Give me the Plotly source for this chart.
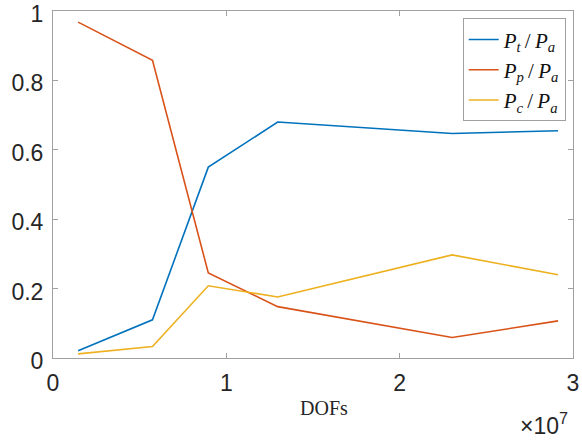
import plotly.graph_objects as go

dofs = [1.45e6, 5.74e6, 8.96e6, 1.296e7, 2.303e7, 2.914e7]
pt_pa = [0.021, 0.110, 0.550, 0.680, 0.647, 0.655]
pp_pa = [0.968, 0.858, 0.245, 0.148, 0.059, 0.107]
pc_pa = [0.012, 0.033, 0.208, 0.176, 0.297, 0.240]

names = ["<i>P<sub>t</sub></i>\u2009/\u2009<i>P<sub>a</sub></i>",
         "<i>P<sub>p</sub></i>\u2009/\u2009<i>P<sub>a</sub></i>",
         "<i>P<sub>c</sub></i>\u2009/\u2009<i>P<sub>a</sub></i>"]
colors = ["#0072BD", "#D95319", "#EDB120"]
series = [pt_pa, pp_pa, pc_pa]

xtickvals = [0, 1e7, 2e7, 3e7]
xticktext = ["0", "1", "2", "3"]
ytickvals = [0, 0.2, 0.4, 0.6, 0.8, 1]
yticktext = ["0", "0.2", "0.4", "0.6", "0.8", "1"]

fig = go.Figure()
for y, n, c in zip(series, names, colors):
    fig.add_trace(go.Scatter(x=dofs, y=y, mode="lines", name=n,
                             line=dict(color=c, width=1.6)))

L, T, W, H = 52.8, 11.0, 520.5, 347.3
axcol = "#a0a0a0"
tickfont = dict(family="Liberation Sans, Arial", size=23, color="#262626")
fig.update_layout(
    width=582, height=441,
    margin=dict(l=L, r=582 - L - W, t=T, b=441 - T - H, autoexpand=False),
    plot_bgcolor="white", paper_bgcolor="white",
    showlegend=True,
    legend=dict(x=0.986, y=0.979, xanchor="right", yanchor="top",
                bordercolor=axcol, borderwidth=1, bgcolor="white",
                font=dict(family="Liberation Serif, Times New Roman", size=21, color="#111"),
                itemwidth=30, tracegroupgap=0),
)
fig.update_xaxes(range=[0, 3e7], tickvals=xtickvals, ticktext=xticktext,
                 showgrid=False, zeroline=False, showline=True, linecolor=axcol,
                 linewidth=1, mirror="ticks", ticks="inside", ticklen=5,
                 tickcolor=axcol, tickfont=tickfont, ticklabelstandoff=4,
                 automargin=False, ticklabeloverflow="allow")
fig.update_yaxes(range=[0, 1], tickvals=ytickvals, ticktext=yticktext,
                 showgrid=False, zeroline=False, showline=True, linecolor=axcol,
                 linewidth=1, mirror="ticks", ticks="inside", ticklen=5,
                 tickcolor=axcol, tickfont=tickfont, ticklabelstandoff=4,
                 ticklabelshift=3,
                 automargin=False, ticklabeloverflow="allow")

fig.add_annotation(text="DOFs", xref="paper", yref="paper", x=(324 - L) / W, y=-50 / H,
                   xanchor="center", yanchor="middle", showarrow=False,
                   font=dict(family="Liberation Serif, Times New Roman", size=20, color="#262626"))
fig.add_annotation(text="×10<sup>7</sup>", xref="paper", yref="paper", x=(570 - L) / W, y=-66 / H,
                   xanchor="right", yanchor="middle", showarrow=False,
                   font=dict(family="Liberation Sans, Arial", size=23, color="#262626"))

fig.write_html("out.html", config={"displayModeBar": False},
               post_script="document.body.style.margin='0';")
